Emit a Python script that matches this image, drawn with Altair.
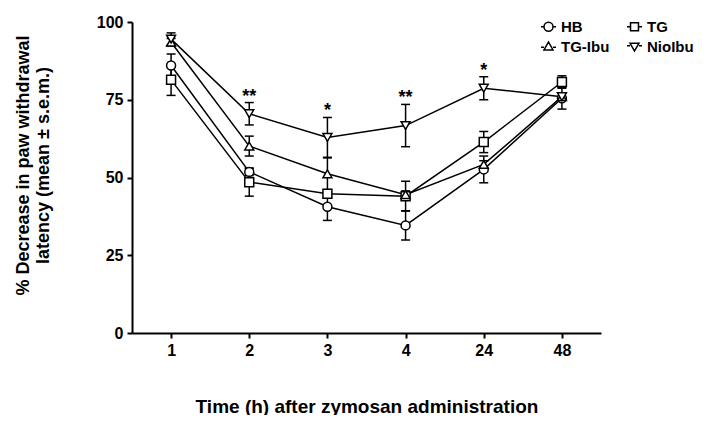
import altair as alt
import pandas as pd

times = ["1", "2", "3", "4", "24", "48"]
series = ["HB", "TG", "TG-Ibu", "NioIbu"]

hb_mean = [86.0, 51.8, 40.6, 34.6, 52.6, 75.5]
hb_sem = [3.7, 1.2, 4.4, 4.7, 4.3, 3.5]
tg_mean = [81.4, 48.5, 44.8, 44.0, 61.4, 80.7]
tg_sem = [5.0, 4.5, 1.2, 4.8, 3.4, 2.0]
tgibu_mean = [93.5, 60.1, 51.2, 44.5, 54.2, 76.0]
tgibu_sem = [1.2, 3.2, 5.1, 1.2, 1.2, 1.2]
nioibu_mean = [94.5, 70.5, 62.9, 66.7, 78.7, 76.0]
nioibu_sem = [2.0, 3.6, 6.4, 6.8, 3.7, 1.2]
nioibu_stars = ["", "**", "*", "**", "*", ""]

means = [hb_mean, tg_mean, tgibu_mean, nioibu_mean]
sems = [hb_sem, tg_sem, tgibu_sem, nioibu_sem]

rows = []
for s, m, e in zip(series, means, sems):
    for i, t in enumerate(times):
        rows.append({"time": t, "series": s, "mean": m[i], "sem": e[i],
                     "star": nioibu_stars[i] if s == "NioIbu" else ""})
df = pd.DataFrame(rows)

FONT = "Liberation Sans"
shapes = ["circle", "square", "triangle-up", "triangle-down"]
legend_paths = [
    "M-1,0H-0.6M0.6,0H1M-0.6,0A0.6,0.6,0,1,0,0.6,0A0.6,0.6,0,1,0,-0.6,0Z",
    "M-1,0H-0.53M0.53,0H1M-0.53,-0.53H0.53V0.53H-0.53Z",
    "M-1,0.1H-0.6M0.6,0.1H1M-0.6,0.45L0,-0.6L0.6,0.45Z",
    "M-1,-0.1H-0.6M0.6,-0.1H1M-0.6,-0.45L0,0.6L0.6,-0.45Z",
]

x_enc = alt.X("time:N", sort=times, scale=alt.Scale(type="point", padding=0.5),
              axis=alt.Axis(title="Time (h) after zymosan administration", labelAngle=0,
                            titleY=79, titleBaseline="alphabetic",
                            titleFontSize=19))
y_scale = alt.Scale(domain=[0, 100], nice=False)
y_enc = alt.Y("mean:Q", scale=y_scale,
              axis=alt.Axis(values=[0, 25, 50, 75, 100],
                            title=["% Decrease in paw withdrawal", "latency (mean \u00b1 s.e.m.)"],
                            titleAngle=-90, titleX=-100, titleY=143, titleAlign="center",
                            titleBaseline="bottom", titleLineHeight=20, titleFontSize=18))

base = alt.Chart(df).transform_calculate(
    lo="datum.mean - datum.sem", hi="datum.mean + datum.sem"
)

err = base.mark_rule(color="black", strokeWidth=1.5).encode(
    x=x_enc, y=alt.Y("lo:Q", scale=y_scale), y2="hi:Q")
cap_lo = base.mark_tick(color="black", size=9, thickness=1.5, opacity=1).encode(
    x=x_enc, y=alt.Y("lo:Q", scale=y_scale))
cap_hi = base.mark_tick(color="black", size=9, thickness=1.5, opacity=1).encode(
    x=x_enc, y=alt.Y("hi:Q", scale=y_scale))

lines = base.mark_line(color="black", strokeWidth=1.5).encode(
    x=x_enc, y=y_enc, detail="series:N")

points = base.mark_point(filled=True, fill="white", stroke="black", strokeWidth=1.5,
                         size=80, opacity=1).encode(
    x=x_enc, y=y_enc,
    shape=alt.Shape("series:N", scale=alt.Scale(domain=series, range=shapes), legend=None))

stars = base.transform_filter("datum.star != ''").mark_text(
    font=FONT, fontSize=18, fontWeight="bold", baseline="alphabetic", dy=-1, color="black"
).encode(x=x_enc, y=alt.Y("hi:Q", scale=y_scale), text="star:N")

legend_layer = alt.Chart(df).transform_filter("false").mark_point(
    filled=False, color="black", strokeWidth=1.5, opacity=1
).encode(
    shape=alt.Shape("series:N", scale=alt.Scale(domain=series, range=legend_paths),
                    legend=alt.Legend(title=None, orient="none", legendX=408, legendY=-4,
                                      direction="horizontal",
                                      columns=2, columnPadding=14, rowPadding=3,
                                      symbolSize=225, symbolStrokeWidth=1.5,
                                      symbolStrokeColor="black",
                                      symbolOpacity=1, padding=0,
                                      labelFont=FONT, labelFontSize=15,
                                      labelFontWeight="bold", labelOffset=4,
                                      labelColor="black"))
)

chart = alt.layer(err, cap_lo, cap_hi, lines, points, stars, legend_layer).resolve_scale(
    shape="independent"
).properties(
    width=469, height=311,
    autosize=alt.AutoSizeParams(type="none"),
    padding={"left": 124, "top": 14, "right": 98, "bottom": 82},
).configure_view(stroke=None).configure_axis(
    grid=False, domainColor="black", domainWidth=2, tickColor="black", tickWidth=2,
    tickSize=5, labelFont=FONT, labelFontSize=16, labelFontWeight="bold",
    labelColor="black", labelPadding=4, titleFont=FONT, titleFontWeight="bold",
    titleColor="black"
)

chart.save("out.html", embed_options={"renderer": "svg", "actions": False})
